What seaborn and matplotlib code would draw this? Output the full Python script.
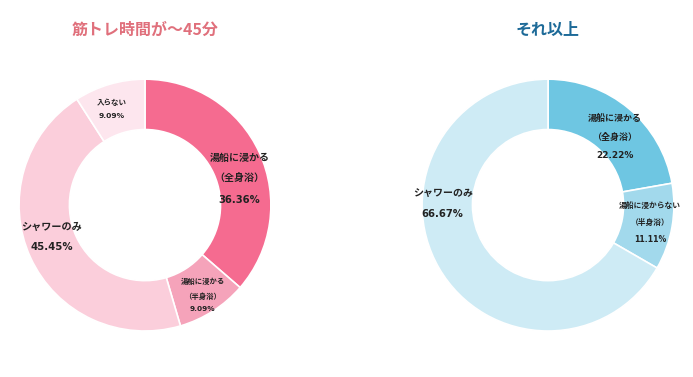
import numpy as np
import matplotlib
matplotlib.use("Agg")
import matplotlib.pyplot as plt
import seaborn as sns

# データ
titulo_izq = "筋トレ時間が～45分"
categorias_izq = ["湯船に浸かる\n（全身浴）", "湯船に浸かる\n（半身浴）", "シャワーのみ", "入らない"]
valores_izq = [36.36, 9.09, 45.45, 9.09]

titulo_der = "それ以上"
categorias_der = ["湯船に浸かる\n（全身浴）", "湯船に浸からない\n（半身浴）", "シャワーのみ"]
valores_der = [22.22, 11.11, 66.67]

# estilos
colores_izq = ["#F56B90", "#F5A3BA", "#FBCEDB", "#FDE6EE"]
colores_der = ["#6EC6E2", "#A2D9EC", "#CEEBF5"]
tam_izq = [7.2, 5.3, 7.3, 5.4]
tam_der = [6.5, 5.6, 7.2]
esp_izq = [2.4, 2.2, 2.3, 2.4]
esp_der = [2.3, 2.2, 2.3]
# desplazamiento de etiquetas (px) respecto al punto medio del anillo
desp_izq = [(3, -16), (3, -5), (-2, 10), (-5, 0)]
desp_der = [(2, -9), (3, 0), (-18, 52)]


def configurar_entorno():
    sns.set_theme(style="white")
    plt.rcParams['font.family'] = ['Noto Sans CJK JP', 'DejaVu Sans']


def dibujar_dona(fig, rect, valores, categorias, colores, tamanos, espacios, desps,
                 titulo, color_titulo):
    ax = fig.add_axes(rect)
    wedges, _ = ax.pie(valores, colors=colores, startangle=90, counterclock=False,
                       radius=1.0, wedgeprops=dict(width=0.4, edgecolor="white", linewidth=1.2))
    for w, cat, val, fs, ls, d in zip(wedges, categorias, valores, tamanos, espacios, desps):
        ang = np.deg2rad((w.theta1 + w.theta2) / 2)
        x, y = 0.8 * np.cos(ang), 0.8 * np.sin(ang)
        ax.annotate(f"{cat}\n{val:.2f}%", xy=(x, y), xytext=d, textcoords="offset pixels",
                    ha="center", va="center", fontsize=fs, fontweight="bold",
                    color="#222222", linespacing=ls,
                    family=['DejaVu Sans', 'Noto Sans CJK JP'])
    ax.set_xlim(-1, 1)
    ax.set_ylim(-1, 1)
    ax.set_aspect("equal")
    ax.axis("off")
    ax.text(0, 1.39, titulo, ha="center", va="center", fontsize=11.5,
            fontweight="bold", color=color_titulo)
    return ax


def main():
    configurar_entorno()
    fig = plt.figure(figsize=(6.93, 3.77), dpi=100)
    fig.patch.set_facecolor("white")
    dibujar_dona(fig, [0.0274, 0.122, 0.3636, 0.668], valores_izq, categorias_izq,
                 colores_izq, tam_izq, esp_izq, desp_izq, titulo_izq, "#E0707C")
    dibujar_dona(fig, [0.609, 0.122, 0.3636, 0.668], valores_der, categorias_der,
                 colores_der, tam_der, esp_der, desp_der, titulo_der, "#1D6A98")
    fig.savefig("out.png", dpi=100, facecolor="white")


if __name__ == "__main__":
    main()
